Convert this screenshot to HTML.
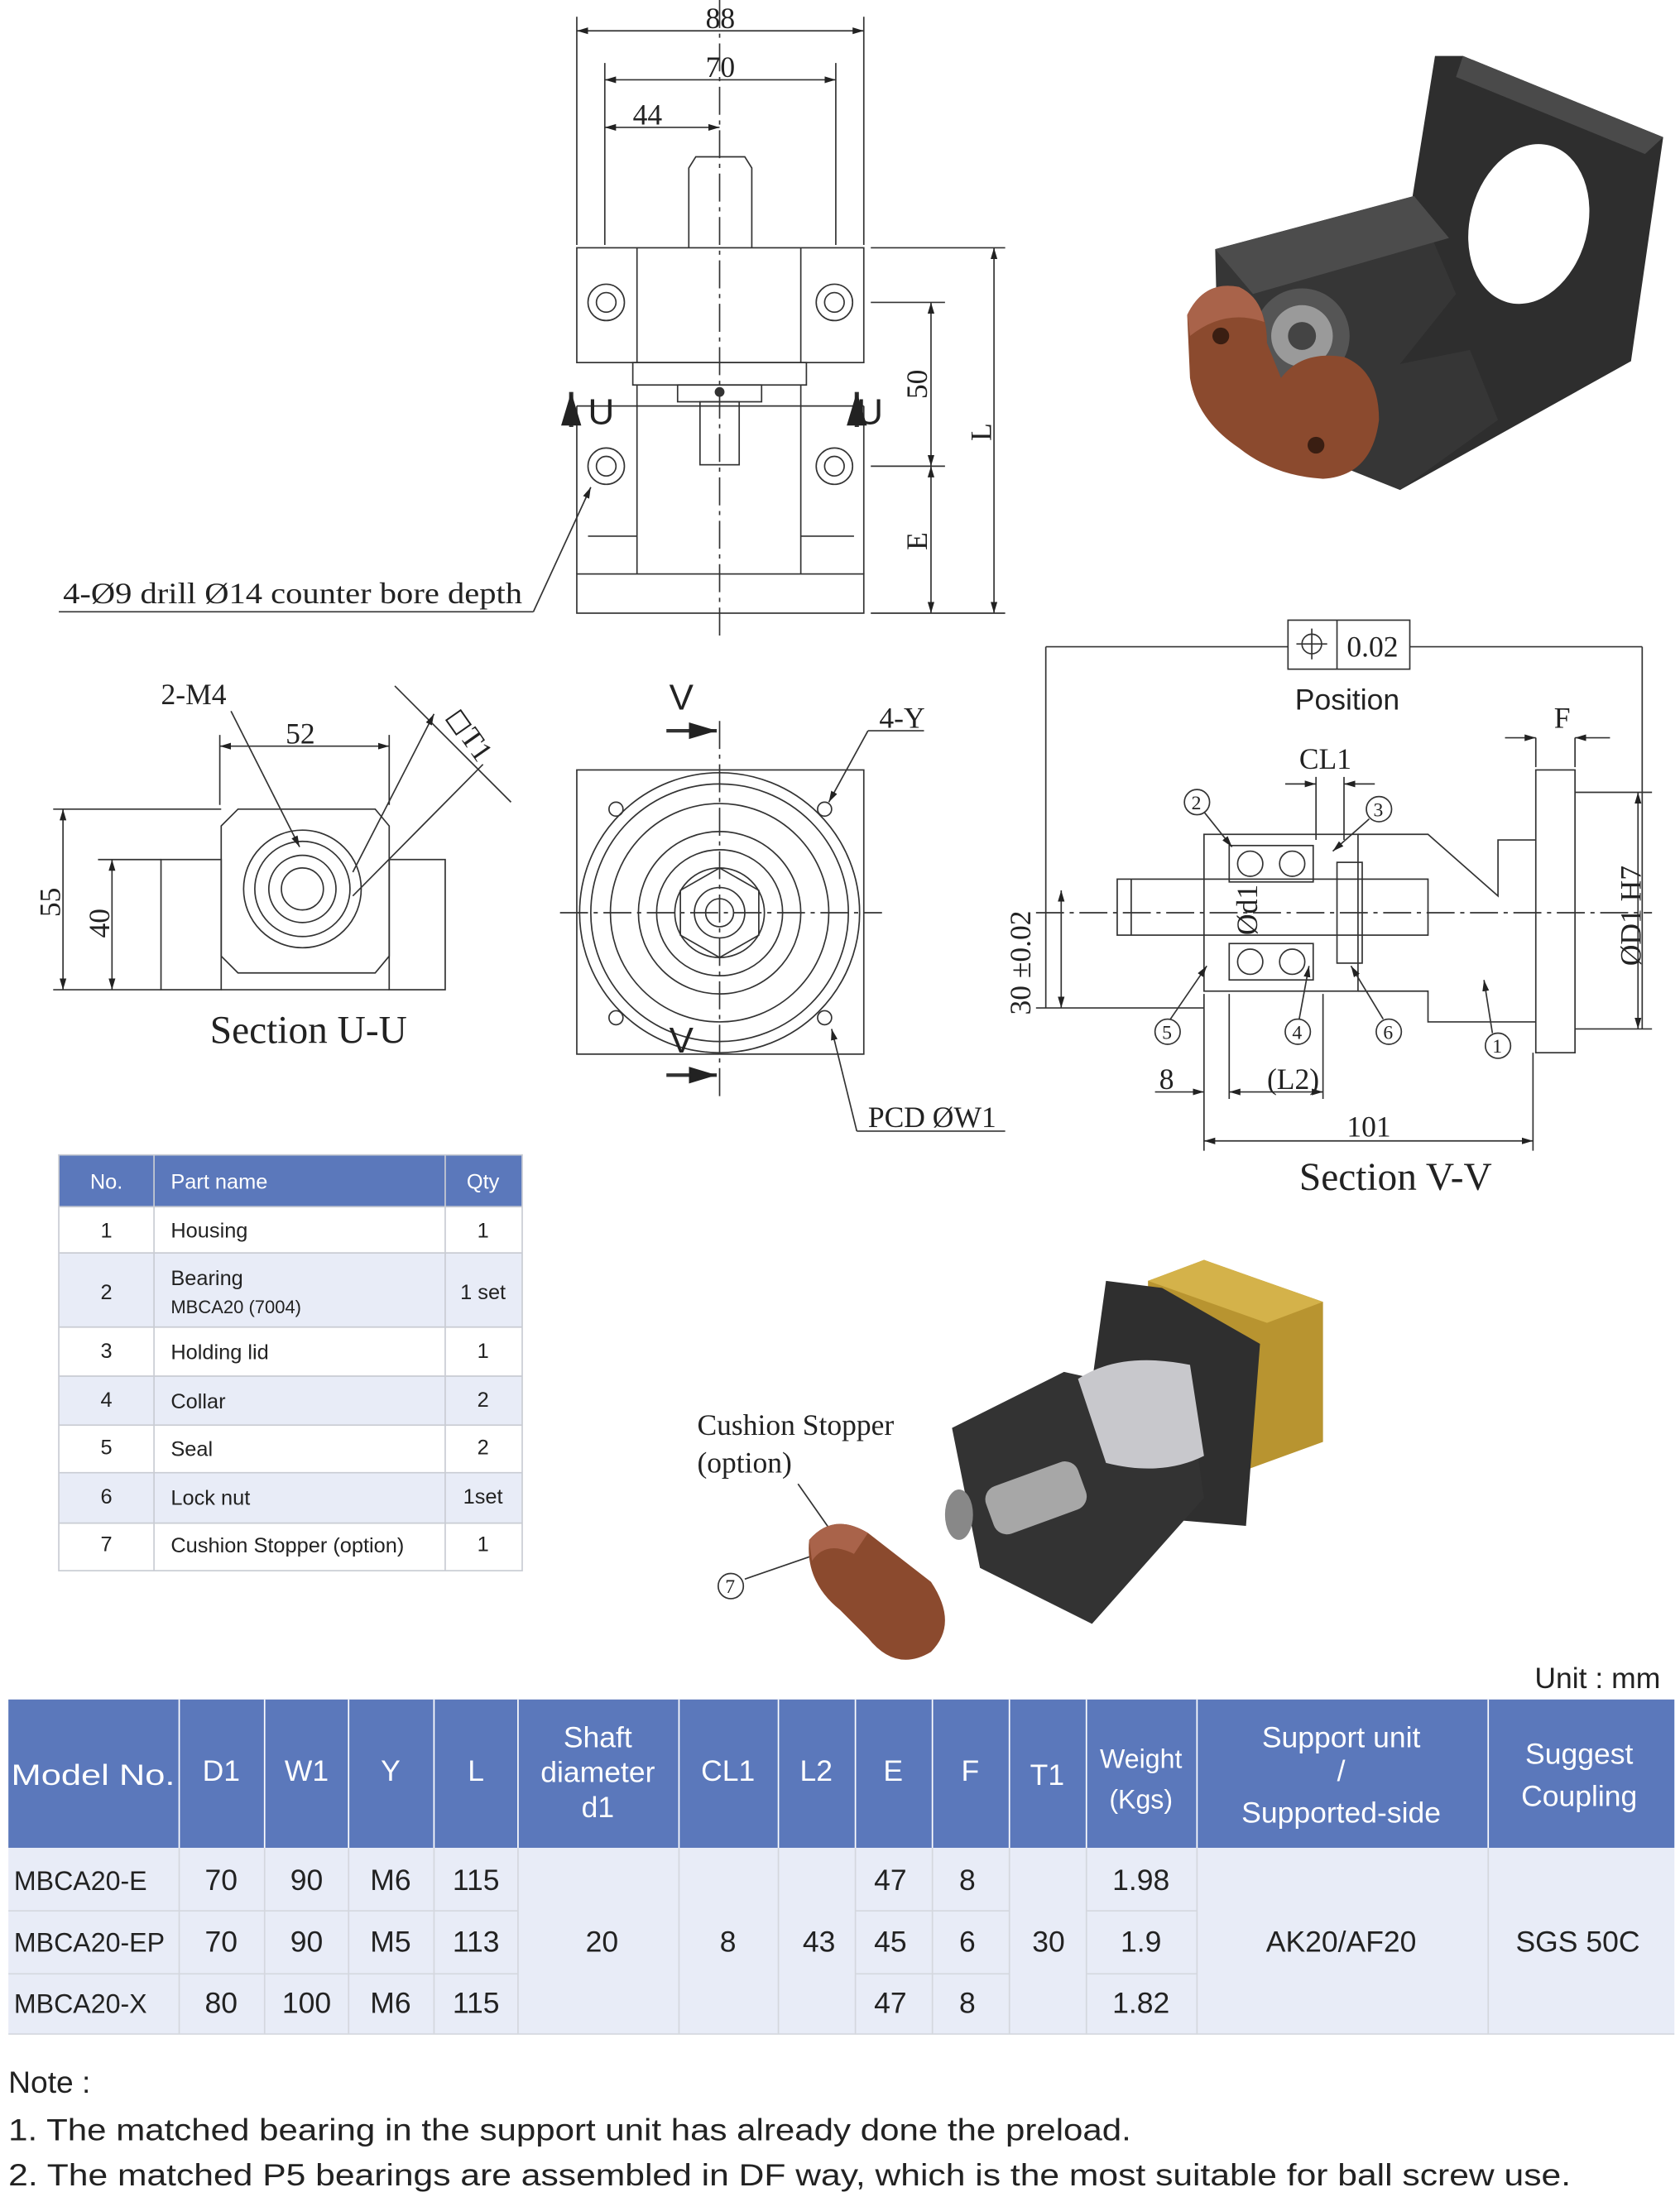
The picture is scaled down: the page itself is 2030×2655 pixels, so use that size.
<!DOCTYPE html>
<html><head><meta charset="utf-8"><style>
html,body{margin:0;padding:0;background:#fff}
svg{display:block}
.s{font-family:"Liberation Serif",serif;fill:#222}
.g{font-family:"Liberation Sans",sans-serif;fill:#222}
.w{font-family:"Liberation Sans",sans-serif;fill:#fff}
</style></head><body>
<svg width="2030" height="2655" viewBox="0 0 1200 1569.4" preserveAspectRatio="none" xmlns="http://www.w3.org/2000/svg">
<defs><marker id="a" viewBox="0 0 10 10" refX="10" refY="5" markerWidth="8" markerHeight="8" orient="auto-start-reverse"><path d="M0,2 L10,5 L0,8z" fill="#222"/></marker></defs>
<g stroke="#333" stroke-width="1" fill="none">
<line x1="514" y1="0" x2="514" y2="455" stroke-dasharray="20,4,3,4"/>
<line x1="412" y1="12" x2="412" y2="175"/><line x1="617" y1="12" x2="617" y2="175"/>
<line x1="432" y1="45" x2="432" y2="175"/><line x1="597" y1="45" x2="597" y2="175"/>
<line x1="412" y1="22" x2="617" y2="22" marker-start="url(#a)" marker-end="url(#a)"/>
<line x1="432" y1="57" x2="597" y2="57" marker-start="url(#a)" marker-end="url(#a)"/>
<line x1="432" y1="91" x2="514" y2="91" marker-start="url(#a)" marker-end="url(#a)"/>
<path d="M492,177 V120 L497,112 H532 L537,120 V177"/>
<rect x="412" y="177" width="205" height="82"/>
<line x1="455" y1="177" x2="455" y2="259"/><line x1="572" y1="177" x2="572" y2="259"/>
<circle cx="433" cy="216" r="13"/><circle cx="433" cy="216" r="7"/>
<circle cx="596" cy="216" r="13"/><circle cx="596" cy="216" r="7"/>
<rect x="452" y="259" width="124" height="16"/>
<rect x="484" y="275" width="60" height="12"/>
<rect x="500" y="287" width="28" height="45"/>
<circle cx="514" cy="280" r="3" fill="#333"/>
<path d="M412,290 H617 M412,290 V410 M617,290 V410"/>
<line x1="455" y1="275" x2="455" y2="410"/><line x1="572" y1="275" x2="572" y2="410"/>
<circle cx="433" cy="333" r="13"/><circle cx="433" cy="333" r="7"/>
<circle cx="596" cy="333" r="13"/><circle cx="596" cy="333" r="7"/>
<rect x="412" y="410" width="205" height="28"/>
<line x1="420" y1="383" x2="455" y2="383"/><line x1="572" y1="383" x2="610" y2="383"/>
<line x1="622" y1="177" x2="718" y2="177"/><line x1="622" y1="216" x2="675" y2="216"/>
<line x1="622" y1="333" x2="675" y2="333"/><line x1="622" y1="438" x2="718" y2="438"/>
<line x1="665" y1="216" x2="665" y2="333" marker-start="url(#a)" marker-end="url(#a)"/>
<line x1="665" y1="333" x2="665" y2="438" marker-start="url(#a)" marker-end="url(#a)"/>
<line x1="710" y1="177" x2="710" y2="438" marker-start="url(#a)" marker-end="url(#a)"/>
<line x1="42" y1="437" x2="381" y2="437"/><line x1="381" y1="437" x2="422" y2="348" marker-end="url(#a)"/>
<line x1="408" y1="305" x2="408" y2="280" stroke-width="3" marker-end="url(#a)"/>
<line x1="612" y1="305" x2="612" y2="280" stroke-width="3" marker-end="url(#a)"/>
<path d="M170,578 H268 L278,590 V683 L268,695 H170 L158,683 V590 Z"/>
<rect x="115" y="614" width="43" height="93"/><rect x="278" y="614" width="40" height="93"/>
<line x1="158" y1="707" x2="278" y2="707"/>
<circle cx="216" cy="635" r="42"/><circle cx="216" cy="635" r="34"/><circle cx="216" cy="635" r="24"/><circle cx="216" cy="635" r="15"/>
<line x1="157" y1="525" x2="157" y2="575"/><line x1="278" y1="525" x2="278" y2="575"/>
<line x1="157" y1="533" x2="278" y2="533" marker-start="url(#a)" marker-end="url(#a)"/>
<line x1="38" y1="578" x2="158" y2="578"/><line x1="70" y1="614" x2="115" y2="614"/><line x1="38" y1="707" x2="115" y2="707"/>
<line x1="45" y1="578" x2="45" y2="707" marker-start="url(#a)" marker-end="url(#a)"/>
<line x1="80" y1="614" x2="80" y2="707" marker-start="url(#a)" marker-end="url(#a)"/>
<line x1="165" y1="508" x2="214" y2="605" marker-end="url(#a)"/>
<line x1="282" y1="490" x2="365" y2="573"/><line x1="252" y1="623" x2="310" y2="510" marker-end="url(#a)"/>
<line x1="252" y1="640" x2="345" y2="546"/>
<rect x="412" y="550" width="205" height="203"/>
<line x1="514" y1="515" x2="514" y2="785" stroke-dasharray="20,4,3,4"/>
<line x1="400" y1="652" x2="630" y2="652" stroke-dasharray="20,4,3,4"/>
<circle cx="514" cy="652" r="100"/><circle cx="514" cy="652" r="92"/><circle cx="514" cy="652" r="78"/><circle cx="514" cy="652" r="58"/>
<circle cx="514" cy="652" r="45"/><circle cx="514" cy="652" r="32"/><circle cx="514" cy="652" r="18"/><circle cx="514" cy="652" r="10"/>
<path d="M514,620 L542,636 V668 L514,684 L486,668 V636Z"/>
<circle cx="440" cy="578" r="5"/><circle cx="589" cy="578" r="5"/><circle cx="440" cy="727" r="5"/><circle cx="589" cy="727" r="5"/>
<line x1="620" y1="522" x2="592" y2="573" marker-end="url(#a)"/>
<line x1="620" y1="522" x2="660" y2="522"/>
<line x1="612" y1="808" x2="594" y2="735" marker-end="url(#a)"/>
<line x1="612" y1="808" x2="718" y2="808"/>
<line x1="476" y1="522" x2="512" y2="522" stroke-width="2.5" marker-end="url(#a)"/>
<line x1="476" y1="768" x2="512" y2="768" stroke-width="2.5" marker-end="url(#a)"/>
<line x1="747" y1="462" x2="920" y2="462"/><line x1="1007" y1="462" x2="1173" y2="462"/>
<rect x="920" y="443" width="87" height="35"/><line x1="955" y1="443" x2="955" y2="478"/>
<circle cx="937" cy="460" r="7"/><line x1="926" y1="460" x2="948" y2="460"/><line x1="937" y1="449" x2="937" y2="471"/>
<line x1="747" y1="462" x2="747" y2="720"/><line x1="1173" y1="462" x2="1173" y2="735"/>
<line x1="740" y1="652" x2="1180" y2="652" stroke-dasharray="20,4,3,4"/>
<rect x="798" y="628" width="222" height="40"/>
<line x1="808" y1="628" x2="808" y2="668"/>
<rect x="860" y="596" width="110" height="112"/>
<rect x="878" y="604" width="60" height="26"/><rect x="878" y="674" width="60" height="26"/>
<circle cx="893" cy="617" r="9"/><circle cx="923" cy="617" r="9"/><circle cx="893" cy="687" r="9"/><circle cx="923" cy="687" r="9"/>
<rect x="955" y="616" width="18" height="72"/>
<path d="M970,596 H1020 L1070,640 V600 H1097 M970,708 H1020 V730 H1097"/>
<rect x="1097" y="550" width="28" height="202"/>
<line x1="1125" y1="566" x2="1180" y2="566"/><line x1="1125" y1="735" x2="1180" y2="735"/>
<line x1="1170" y1="566" x2="1170" y2="735" marker-start="url(#a)" marker-end="url(#a)"/>
<line x1="758" y1="636" x2="758" y2="720" marker-start="url(#a)" marker-end="url(#a)"/>
<line x1="740" y1="720" x2="860" y2="720"/>
<line x1="1097" y1="527" x2="1097" y2="548"/><line x1="1125" y1="527" x2="1125" y2="548"/>
<line x1="1075" y1="527" x2="1097" y2="527" marker-end="url(#a)"/><line x1="1150" y1="527" x2="1125" y2="527" marker-end="url(#a)"/>
<line x1="940" y1="555" x2="940" y2="600"/><line x1="960" y1="555" x2="960" y2="600"/>
<line x1="918" y1="560" x2="940" y2="560" marker-end="url(#a)"/><line x1="982" y1="560" x2="960" y2="560" marker-end="url(#a)"/>
<line x1="860" y1="710" x2="860" y2="822"/><line x1="878" y1="710" x2="878" y2="785"/><line x1="945" y1="710" x2="945" y2="785"/><line x1="1095" y1="752" x2="1095" y2="822"/>
<line x1="825" y1="780" x2="860" y2="780" marker-end="url(#a)"/><line x1="878" y1="780" x2="945" y2="780" marker-start="url(#a)" marker-end="url(#a)"/>
<line x1="860" y1="815" x2="1095" y2="815" marker-start="url(#a)" marker-end="url(#a)"/>
<line x1="860" y1="580" x2="880" y2="605" marker-end="url(#a)"/><line x1="978" y1="585" x2="952" y2="608" marker-end="url(#a)"/>
<line x1="836" y1="728" x2="862" y2="690" marker-end="url(#a)"/><line x1="928" y1="728" x2="935" y2="690" marker-end="url(#a)"/>
<line x1="988" y1="728" x2="965" y2="690" marker-end="url(#a)"/><line x1="1066" y1="738" x2="1060" y2="700" marker-end="url(#a)"/>
<g fill="#fff"><circle cx="855" cy="573" r="9"/><circle cx="985" cy="578" r="9"/><circle cx="834" cy="737" r="9"/><circle cx="927" cy="737" r="9"/><circle cx="992" cy="737" r="9"/><circle cx="1070" cy="747" r="9"/><circle cx="522" cy="1133" r="9"/></g>
<line x1="532" y1="1128" x2="590" y2="1108"/><line x1="570" y1="1060" x2="598" y2="1100" marker-end="url(#a)"/>
</g>
<g stroke="none">
<polygon points="1025,40 1045,40 1188,98 1165,258 1000,350 985,290" fill="#2e2e2e"/>
<polygon points="1045,40 1188,98 1175,110 1040,55" fill="#4a4a4a"/>
<ellipse cx="1092" cy="160" rx="42" ry="58" fill="#fff" transform="rotate(15 1092 160)"/>
<polygon points="868,178 1010,140 1040,210 1000,260 1050,250 1070,300 1000,350 925,320 870,260" fill="#363636"/>
<polygon points="868,178 1010,140 1035,170 895,210" fill="#4c4c4c"/>
<circle cx="930" cy="240" r="34" fill="#555"/><circle cx="930" cy="240" r="22" fill="#9a9a9a"/><circle cx="930" cy="240" r="10" fill="#444"/>
<path d="M848,225 Q860,200 885,205 Q905,215 905,245 L915,270 Q930,250 960,255 Q985,265 985,300 Q980,340 945,342 Q910,340 885,320 Q855,300 850,270 Z" fill="#8b4a2e"/>
<path d="M848,225 Q860,200 885,205 Q900,212 903,230 Q875,220 850,240Z" fill="#a9634a"/>
<circle cx="872" cy="240" r="6" fill="#3a1e12"/><circle cx="940" cy="318" r="6" fill="#3a1e12"/>
<polygon points="820,915 860,900 945,930 945,1030 890,1050 820,1030" fill="#b89430"/>
<polygon points="860,900 945,930 905,945 820,915" fill="#d4b24a"/>
<polygon points="790,915 830,920 900,960 890,1090 830,1085 770,1060" fill="#2f2f2f"/>
<polygon points="680,1020 760,980 850,1000 860,1070 780,1160 700,1120" fill="#333"/>
<path d="M770,985 Q800,965 850,975 L860,1040 Q830,1055 790,1045Z" fill="#c8c8cc"/>
<rect x="705" y="1052" width="70" height="36" rx="10" fill="#a7a7a7" transform="rotate(-20 740 1070)"/>
<ellipse cx="685" cy="1082" rx="10" ry="18" fill="#888"/>
<path d="M578,1100 Q595,1080 620,1095 L665,1130 Q685,1160 665,1180 Q640,1195 620,1170 L600,1150 Q575,1130 578,1100Z" fill="#8b4a2e"/>
<path d="M578,1100 Q595,1080 620,1095 L610,1110 Q590,1100 580,1115Z" fill="#a9634a"/>
</g>
<g class="s" font-size="21">
<text x="504" y="20">88</text><text x="504" y="55">70</text><text x="452" y="89">44</text>
<text x="45" y="431" textLength="328" lengthAdjust="spacingAndGlyphs">4-Ø9 drill Ø14 counter bore depth</text>
<text x="420" y="303" font-family="Liberation Sans" font-size="26">U</text><text x="612" y="303" font-family="Liberation Sans" font-size="26">U</text>
<text transform="translate(662,285) rotate(-90)">50</text><text transform="translate(662,393) rotate(-90)">E</text><text transform="translate(708,315) rotate(-90)">L</text>
<text x="115" y="503">2-M4</text><text x="204" y="531">52</text>
<text transform="translate(318,512) rotate(55)">◻T1</text>
<text transform="translate(43,655) rotate(-90)">55</text><text transform="translate(78,670) rotate(-90)">40</text>
<text x="150" y="745" font-size="28">Section U-U</text>
<text x="478" y="507" font-family="Liberation Sans" font-size="26">V</text><text x="478" y="752" font-family="Liberation Sans" font-size="26">V</text>
<text x="628" y="520">4-Y</text><text x="620" y="805">PCD  ØW1</text>
<text x="962" y="469">0.02</text>
<text x="925" y="507" font-family="Liberation Sans">Position</text>
<text x="928" y="549">CL1</text><text x="1110" y="520">F</text>
<text transform="translate(898,668) rotate(-90)">Ød1</text>
<text transform="translate(1172,690) rotate(-90)">ØD1 H7</text>
<text transform="translate(736,725) rotate(-90)">30 ±0.02</text>
<text x="828" y="778">8</text><text x="905" y="778">(L2)</text><text x="962" y="812">101</text>
<text x="928" y="850" font-size="28">Section V-V</text>
<text x="498" y="1025">Cushion Stopper</text><text x="498" y="1052">(option)</text>
<g font-size="14"><text x="851" y="578">2</text><text x="981" y="583">3</text><text x="830" y="742">5</text><text x="923" y="742">4</text><text x="988" y="742">6</text><text x="1066" y="752">1</text><text x="518" y="1138">7</text></g>
</g>
<g>
<rect x="42" y="825" width="331" height="37" fill="#5b78bb"/>
<rect x="42" y="895" width="331" height="53" fill="#e8ecf7"/><rect x="42" y="983" width="331" height="35" fill="#e8ecf7"/><rect x="42" y="1052" width="331" height="36" fill="#e8ecf7"/>
<g stroke="#c9ccd3" stroke-width="1" fill="none">
<rect x="42" y="825" width="331" height="297"/>
<line x1="110" y1="825" x2="110" y2="1122"/><line x1="318" y1="825" x2="318" y2="1122"/>
<line x1="42" y1="862" x2="373" y2="862"/><line x1="42" y1="895" x2="373" y2="895"/><line x1="42" y1="948" x2="373" y2="948"/><line x1="42" y1="983" x2="373" y2="983"/><line x1="42" y1="1018" x2="373" y2="1018"/><line x1="42" y1="1052" x2="373" y2="1052"/><line x1="42" y1="1088" x2="373" y2="1088"/>
</g>
<g class="w" font-size="15"><text x="76" y="849" text-anchor="middle">No.</text><text x="122" y="849">Part name</text><text x="345" y="849" text-anchor="middle">Qty</text></g>
<g class="g" font-size="15">
<text x="76" y="884" text-anchor="middle">1</text><text x="122" y="884">Housing</text><text x="345" y="884" text-anchor="middle">1</text>
<text x="76" y="928" text-anchor="middle">2</text><text x="122" y="918">Bearing</text><text x="122" y="938" font-size="13">MBCA20 (7004)</text><text x="345" y="928" text-anchor="middle">1 set</text>
<text x="76" y="970" text-anchor="middle">3</text><text x="122" y="971">Holding lid</text><text x="345" y="970" text-anchor="middle">1</text>
<text x="76" y="1005" text-anchor="middle">4</text><text x="122" y="1006">Collar</text><text x="345" y="1005" text-anchor="middle">2</text>
<text x="76" y="1039" text-anchor="middle">5</text><text x="122" y="1040">Seal</text><text x="345" y="1039" text-anchor="middle">2</text>
<text x="76" y="1074" text-anchor="middle">6</text><text x="122" y="1075">Lock nut</text><text x="345" y="1074" text-anchor="middle">1set</text>
<text x="76" y="1108" text-anchor="middle">7</text><text x="122" y="1109">Cushion Stopper (option)</text><text x="345" y="1108" text-anchor="middle">1</text>
</g>
</g>
<g>
<text class="g" x="1186" y="1206" font-size="21" text-anchor="end">Unit : mm</text>
<rect x="6" y="1214" width="1190" height="106" fill="#5b78bb"/>
<rect x="6" y="1320" width="1190" height="133" fill="#e8ecf7"/>
<g stroke="#fff" stroke-width="1">
<line x1="128" y1="1214" x2="128" y2="1320"/><line x1="189" y1="1214" x2="189" y2="1320"/><line x1="249" y1="1214" x2="249" y2="1320"/><line x1="310" y1="1214" x2="310" y2="1320"/><line x1="370" y1="1214" x2="370" y2="1320"/><line x1="485" y1="1214" x2="485" y2="1320"/><line x1="556" y1="1214" x2="556" y2="1320"/><line x1="611" y1="1214" x2="611" y2="1320"/><line x1="666" y1="1214" x2="666" y2="1320"/><line x1="721" y1="1214" x2="721" y2="1320"/><line x1="776" y1="1214" x2="776" y2="1320"/><line x1="855" y1="1214" x2="855" y2="1320"/><line x1="1063" y1="1214" x2="1063" y2="1320"/>
</g>
<g stroke="#d4d7de" stroke-width="1">
<line x1="128" y1="1320" x2="128" y2="1453"/><line x1="189" y1="1320" x2="189" y2="1453"/><line x1="249" y1="1320" x2="249" y2="1453"/><line x1="310" y1="1320" x2="310" y2="1453"/><line x1="370" y1="1320" x2="370" y2="1453"/><line x1="485" y1="1320" x2="485" y2="1453"/><line x1="556" y1="1320" x2="556" y2="1453"/><line x1="611" y1="1320" x2="611" y2="1453"/><line x1="666" y1="1320" x2="666" y2="1453"/><line x1="721" y1="1320" x2="721" y2="1453"/><line x1="776" y1="1320" x2="776" y2="1453"/><line x1="855" y1="1320" x2="855" y2="1453"/><line x1="1063" y1="1320" x2="1063" y2="1453"/>
<line x1="6" y1="1365" x2="370" y2="1365"/><line x1="6" y1="1410" x2="370" y2="1410"/>
<line x1="611" y1="1365" x2="721" y2="1365"/><line x1="611" y1="1410" x2="721" y2="1410"/>
<line x1="776" y1="1365" x2="855" y2="1365"/><line x1="776" y1="1410" x2="855" y2="1410"/>
<line x1="6" y1="1453" x2="1196" y2="1453"/>
</g>
<g class="w" font-size="21" text-anchor="middle">
<text x="8" y="1275" text-anchor="start" textLength="117" lengthAdjust="spacingAndGlyphs">Model No.</text><text x="158" y="1272">D1</text><text x="219" y="1272">W1</text><text x="279" y="1272">Y</text><text x="340" y="1272">L</text>
<text x="427" y="1248">Shaft</text><text x="427" y="1273">diameter</text><text x="427" y="1298">d1</text>
<text x="520" y="1272">CL1</text><text x="583" y="1272">L2</text><text x="638" y="1272">E</text><text x="693" y="1272">F</text><text x="748" y="1275">T1</text>
<text x="815" y="1263" font-size="19">Weight</text><text x="815" y="1292" font-size="19">(Kgs)</text>
<text x="958" y="1248">Support unit</text><text x="958" y="1272">/</text><text x="958" y="1302">Supported-side</text>
<text x="1128" y="1260">Suggest</text><text x="1128" y="1290">Coupling</text>
</g>
<g class="g" font-size="21" text-anchor="middle">
<text x="10" y="1350" text-anchor="start" font-size="19">MBCA20-E</text><text x="158" y="1350">70</text><text x="219" y="1350">90</text><text x="279" y="1350">M6</text><text x="340" y="1350">115</text><text x="636" y="1350">47</text><text x="691" y="1350">8</text><text x="815" y="1350">1.98</text>
<text x="10" y="1394" text-anchor="start" font-size="19">MBCA20-EP</text><text x="158" y="1394">70</text><text x="219" y="1394">90</text><text x="279" y="1394">M5</text><text x="340" y="1394">113</text><text x="430" y="1394">20</text><text x="520" y="1394">8</text><text x="585" y="1394">43</text><text x="636" y="1394">45</text><text x="691" y="1394">6</text><text x="749" y="1394">30</text><text x="815" y="1394">1.9</text><text x="958" y="1394">AK20/AF20</text><text x="1127" y="1394">SGS 50C</text>
<text x="10" y="1438" text-anchor="start" font-size="19">MBCA20-X</text><text x="158" y="1438">80</text><text x="219" y="1438">100</text><text x="279" y="1438">M6</text><text x="340" y="1438">115</text><text x="636" y="1438">47</text><text x="691" y="1438">8</text><text x="815" y="1438">1.82</text>
</g>
<g class="g" font-size="22">
<text x="6" y="1495">Note :</text>
<text x="6" y="1529" textLength="802" lengthAdjust="spacingAndGlyphs">1. The matched bearing in the support unit has already done the preload.</text>
<text x="6" y="1561" textLength="1116" lengthAdjust="spacingAndGlyphs">2. The matched P5 bearings are assembled in DF way, which is the most suitable for ball screw use.</text>
</g>
</g>
</svg>
</body></html>
